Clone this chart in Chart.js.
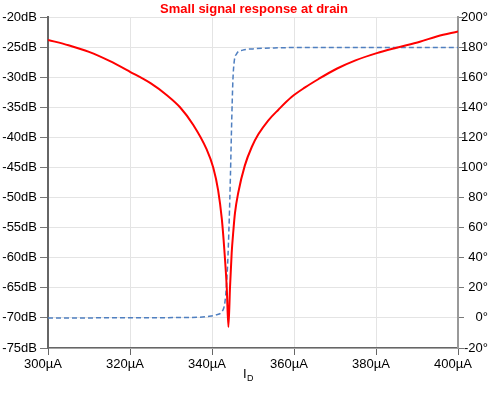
<!DOCTYPE html>
<html>
<head>
<meta charset="utf-8">
<script src="https://cdn.jsdelivr.net/npm/chart.js@4"></script>
<style>
  html, body { margin: 0; padding: 0; background: #fff; }
  #wrap { width: 501px; height: 398px; }
</style>
</head>
<body>
<div id="wrap"><canvas id="c" width="501" height="398"></canvas></div>
<script>
// Magnitude (dB) vs drain current (µA)
const magCurrent = [300, 305, 310, 315, 320, 325, 329, 332.2, 335.4, 338.7, 340.3, 341.5, 342.4, 343.0, 343.6, 344.0,
                    344.4, 344.8, 345.2, 345.6, 346.4, 348, 349.7, 351.3, 353.7, 356.2, 359.4, 362.7, 366, 370.4,
                    375, 380.2, 385, 390.7, 395, 400];
const magDb = [-23.8, -24.7, -25.8, -27.3, -29.1, -31.0, -33.0, -35.0, -37.9, -42.0, -45.0, -48.8, -53.6, -58.6, -65.0, -71.5,
               -64.8, -59.2, -55.6, -52.6, -49.2, -44.7, -41.6, -39.5, -37.2, -35.4, -33.3, -31.7, -30.3, -28.6,
               -27.2, -26.0, -25.1, -24.1, -23.2, -22.4];
// Phase (degrees) vs drain current (µA)
const phaseCurrent = [300, 335, 339, 341, 342.8, 343.3, 343.8, 344.2, 344.5, 344.8, 345.1, 345.4, 346, 347.5, 350, 356, 360, 400];
const phaseDeg = [0, 0.3, 1, 2, 6, 14, 35, 65, 95, 130, 158, 170, 175.5, 178, 178.8, 179.5, 179.7, 179.8];
// Axis ticks
const xTicks = [300, 320, 340, 360, 380, 400];
const dbTicks = [-75, -70, -65, -60, -55, -50, -45, -40, -35, -30, -25, -20];
const degTicks = [-20, 0, 20, 40, 60, 80, 100, 120, 140, 160, 180, 200];

const titleText = 'Small signal response at drain';
const FONT = '"Liberation Sans", Arial, sans-serif';

const textPlugin = {
  id: 'texts',
  afterDraw(chart) {
    const ctx = chart.ctx;
    const area = chart.chartArea;
    ctx.save();
    ctx.fillStyle = '#ff0000';
    ctx.font = 'bold 13px ' + FONT;
    ctx.textAlign = 'center';
    ctx.textBaseline = 'middle';
    ctx.fillText(titleText, (area.left + area.right) / 2 + 1, 9);
    // x-axis title I_D
    ctx.fillStyle = '#000';
    ctx.textAlign = 'left';
    ctx.textBaseline = 'alphabetic';
    ctx.font = '13px ' + FONT;
    ctx.fillText('I', 243, 378);
    ctx.font = '9px ' + FONT;
    ctx.fillText('D', 247, 381);
    ctx.restore();
  }
};

const tickFont = { family: FONT, size: 13 };

new Chart(document.getElementById('c'), {
  type: 'line',
  data: {
    datasets: [
      {
        label: 'Magnitude',
        data: magCurrent.map((x, i) => ({ x: x, y: magDb[i] })),
        yAxisID: 'y',
        borderColor: '#ff0000',
        borderWidth: 2,
        pointRadius: 0,
        cubicInterpolationMode: 'monotone',
        fill: false
      },
      {
        label: 'Phase',
        data: phaseCurrent.map((x, i) => ({ x: x, y: phaseDeg[i] })),
        yAxisID: 'y2',
        borderColor: '#4f7fc0',
        borderWidth: 1.5,
        borderDash: [5, 3],
        pointRadius: 0,
        cubicInterpolationMode: 'monotone',
        fill: false
      }
    ]
  },
  options: {
    responsive: false,
    animation: false,
    devicePixelRatio: 1,
    layout: { padding: { top: 17, right: 13, left: 0, bottom: 0 } },
    plugins: { legend: { display: false }, title: { display: false }, tooltip: { enabled: false } },
    scales: {
      x: {
        type: 'linear',
        min: 300, max: 400,
        afterBuildTicks: s => { s.ticks = xTicks.map(v => ({ value: v })); },
        afterFit: s => { s.height = 50; },
        ticks: { callback: v => v + 'µA', color: '#000', font: tickFont, padding: 2, labelOffset: -5, maxRotation: 0 },
        grid: { color: '#e4e4e4', tickColor: '#666', tickLength: 7 },
        border: { color: '#666', width: 1.5 }
      },
      y: {
        type: 'linear',
        position: 'left',
        min: -75, max: -20,
        afterBuildTicks: s => { s.ticks = dbTicks.map(v => ({ value: v })); },
        afterFit: s => { s.width = 48; },
        ticks: { callback: v => v + 'dB', color: '#000', font: tickFont, padding: 3 },
        grid: { color: '#e4e4e4', tickColor: '#777', tickLength: 8 },
        border: { color: '#666', width: 2 }
      },
      y2: {
        type: 'linear',
        position: 'right',
        min: -20, max: 200,
        afterBuildTicks: s => { s.ticks = degTicks.map(v => ({ value: v })); },
        afterFit: s => { s.width = 30; },
        ticks: { callback: v => v + '°', color: '#000', font: tickFont, padding: 0, crossAlign: 'far' },
        grid: { drawOnChartArea: false, tickColor: '#777', tickLength: 6 },
        border: { color: '#999', width: 2 }
      }
    }
  },
  plugins: [textPlugin]
});
</script>
</body>
</html>
